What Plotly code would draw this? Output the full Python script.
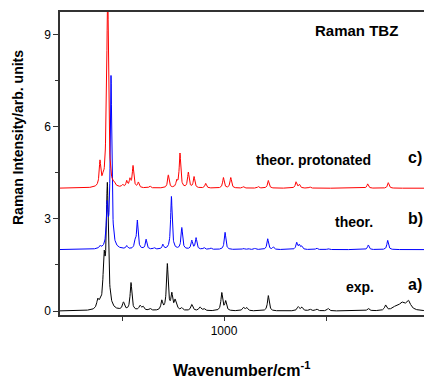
import numpy as np
import plotly.graph_objects as go

# ---------------- data (peak tables) ----------------
# experimental spectrum (a), baseline offset 0
exp_pos = [381, 392, 412, 428, 507, 544, 588, 603, 637, 695, 722, 744, 760, 768, 793,
           842, 882, 902, 989, 1008, 1095, 1111, 1217, 1363, 1381, 1421, 1454, 1510,
           1707, 1792, 1838, 1871, 1903]
exp_amp = [0.28, 0.12, 1.45, 4.0, 0.25, 0.9, 0.15, 0.12, 0.07, 0.3, 1.5, 0.5, 0.28, 0.12, 0.08,
           0.2, 0.12, 0.07, 0.58, 0.3, 0.1, 0.1, 0.5, 0.13, 0.12, 0.06, 0.06, 0.08,
           0.08, 0.17, 0.1, 0.22, 0.3]
exp_wid = [6, 5, 6, 6, 6, 5, 6, 6, 6, 5, 5, 5, 5, 5, 6,
           6, 6, 6, 5, 5, 6, 6, 5, 6, 6, 6, 6, 6,
           6, 6, 18, 16, 14]

# theoretical spectrum (b), baseline offset 2
theo_pos = [392, 427, 446, 523, 564, 575, 618, 658, 700, 742, 793, 842, 863, 902, 935,
            1005, 1095, 1119, 1152, 1214, 1242, 1356, 1369, 1381, 1454, 1510, 1707, 1802]
theo_amp = [0.08, 1.3, 5.6, 0.1, 0.2, 0.92, 0.32, 0.05, 0.15, 1.72, 0.7, 0.28, 0.37, 0.06, 0.05,
            0.56, 0.04, 0.04, 0.04, 0.35, 0.08, 0.22, 0.14, 0.1, 0.05, 0.04, 0.15, 0.3]

# theoretical protonated spectrum (c), baseline offset 4
prot_pos = [392, 407, 424, 430, 462, 503, 523, 539, 554, 580, 637, 727, 768, 784, 825,
            853, 910, 997, 1033, 1095, 1168, 1217, 1353, 1369, 1421, 1704, 1805]
prot_amp = [0.8, 0.15, 1.2, 6.2, 0.08, 0.08, 0.2, 0.25, 0.7, 0.17, 0.06, 0.42, 0.2, 1.12, 0.5,
            0.36, 0.15, 0.34, 0.34, 0.05, 0.05, 0.25, 0.2, 0.12, 0.04, 0.14, 0.18]

offsets = {"exp": 0, "theor": 2, "prot": 4}

x_range = [196, 1980]
y_tickvals = [0, 3, 6, 9]
x_tickvals = [1000]
x_minor_tickvals = [500, 1500]

# ---------------- build spectra ----------------
wn = np.arange(196, 1981, 1.0)


def spectrum(pos, amp, wid):
    y = np.zeros_like(wn)
    for p, a, w in zip(pos, amp, wid):
        y += a * w ** 2 / ((wn - p) ** 2 + w ** 2)
    return y


y_exp = spectrum(exp_pos, exp_amp, exp_wid) + offsets["exp"]
y_theo = spectrum(theo_pos, theo_amp, [4.5] * len(theo_pos)) + offsets["theor"]
y_prot = spectrum(prot_pos, prot_amp, [4.5] * len(prot_pos)) + offsets["prot"]

fig = go.Figure()
fig.add_trace(go.Scatter(x=wn, y=y_exp, mode="lines", line=dict(color="#000000", width=1)))
fig.add_trace(go.Scatter(x=wn, y=y_theo, mode="lines", line=dict(color="#0000ff", width=1)))
fig.add_trace(go.Scatter(x=wn, y=y_prot, mode="lines", line=dict(color="#ff0000", width=1)))

FONT = "Arial, Liberation Sans, sans-serif"
L, R, T, B = 60, 0, 12, 64
W, H = 424, 379
pw, ph = W - L - R, H - T - B


def px(xp, yp):
    return (xp - L) / pw, (H - B - yp) / ph


def ann(text, xp, yp, size, angle=0):
    x, y = px(xp, yp)
    fig.add_annotation(text=text, x=x, y=y, xref="paper", yref="paper",
                       xanchor="center", yanchor="middle", showarrow=False,
                       textangle=angle, font=dict(family=FONT, size=size, color="black"))


ann("<b>Raman TBZ</b>", 356, 30, 15)
ann("<b>theor. protonated</b>", 313, 160, 14)
ann("<b>c)</b>", 415, 158, 16)
ann("<b>theor.</b>", 354, 222, 14)
ann("<b>b)</b>", 415, 218, 16)
ann("<b>exp.</b>", 360, 287, 14)
ann("<b>a)</b>", 415, 284, 16)
ann("<b>Raman Intensity/arb. units</b>", 18, 138, 14, -90)
ann("<b>Wavenumber/cm<sup>-1</sup></b>", 241, 369, 16)

fig.update_layout(
    width=W, height=H,
    margin=dict(l=L, r=R, t=T, b=B),
    plot_bgcolor="white", paper_bgcolor="white",
    showlegend=False,
    font=dict(family=FONT, size=12, color="black"),
    xaxis=dict(range=x_range, tickvals=x_tickvals,
               ticks="outside", ticklen=4, tickwidth=1, tickcolor="#333",
               minor=dict(ticks="outside", ticklen=4, tickvals=x_minor_tickvals, tickcolor="#333"),
               showline=True, mirror=True, linecolor="#333", linewidth=1.5,
               showgrid=False, zeroline=False, tickfont=dict(size=12)),
    yaxis=dict(range=[-0.13, 9.74], tickvals=y_tickvals,
               ticks="outside", ticklen=5, tickwidth=1, tickcolor="#333",
               minor=dict(ticks="outside", ticklen=3, tickvals=[1.5, 4.5, 7.5], tickcolor="#333"),
               showline=True, mirror=False, linecolor="#333", linewidth=1.5,
               showgrid=False, zeroline=False, tickfont=dict(size=12)),
)

fig.write_html("out.html")
